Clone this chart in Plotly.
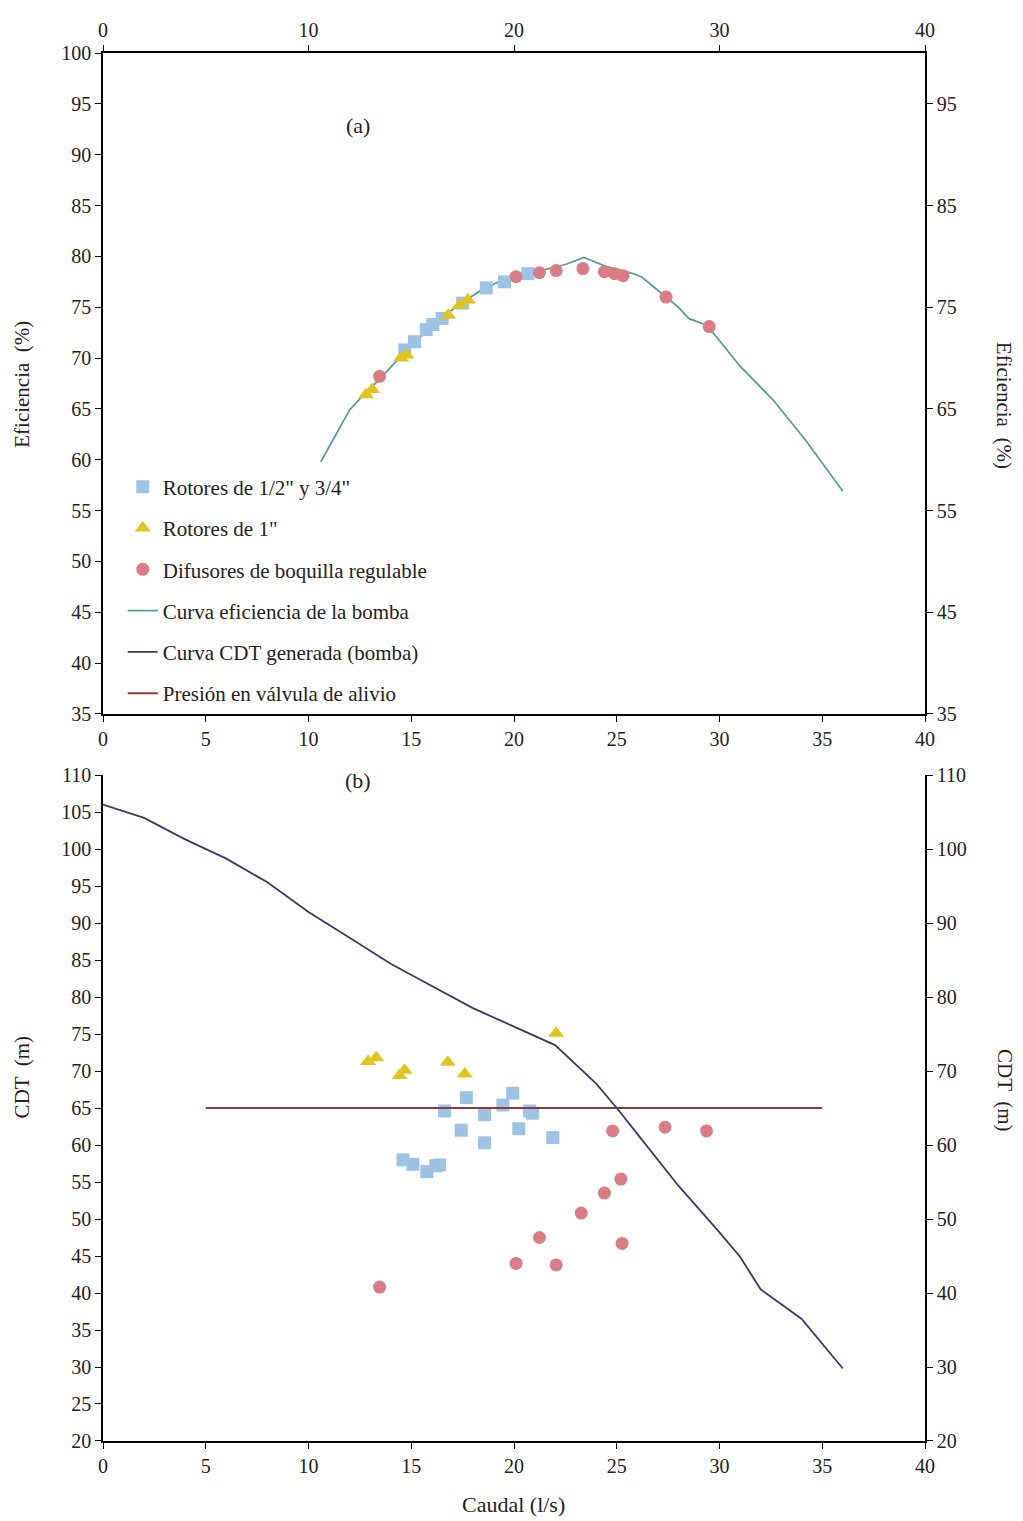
import plotly.graph_objects as go

# ---------------- data: panel (a) efficiency ----------------
eff_curve_x = [10.6, 12.0, 12.6, 13.5, 14.5, 15.5, 16.5, 17.5, 18.5, 19.5, 20.5, 21.5, 22.5, 23.4,
               24.5, 25.8, 26.2, 27.4, 28.0, 28.5, 29.4, 31.0, 32.6, 34.2, 36.0]
eff_curve_y = [59.8, 64.9, 66.2, 68.0, 70.2, 72.2, 74.0, 75.5, 76.8, 77.7, 78.3, 78.7, 79.2, 79.9,
               79.0, 78.3, 78.0, 76.0, 75.0, 73.9, 73.2, 69.2, 65.9, 61.9, 56.9]

eff_blue_x = [14.68, 15.16, 15.73, 16.05, 16.5, 17.5, 18.65, 19.54, 20.67]
eff_blue_y = [70.8, 71.6, 72.8, 73.3, 73.9, 75.4, 76.9, 77.5, 78.3]

eff_yellow_x = [12.8, 13.1, 14.5, 14.76, 16.8, 17.35, 17.76]
eff_yellow_y = [66.4, 66.9, 70.0, 70.3, 74.2, 75.2, 75.7]

eff_pink_x = [13.46, 20.1, 21.24, 22.05, 23.35, 24.4, 24.9, 25.3, 27.4, 29.5]
eff_pink_y = [68.2, 78.0, 78.4, 78.6, 78.8, 78.5, 78.3, 78.1, 76.0, 73.1]

# ---------------- data: panel (b) CDT ----------------
cdt_curve_x = [0, 2, 4, 6, 8, 10, 12, 14, 16, 18, 20, 22, 24, 25, 26, 28, 30, 31, 32, 34, 36]
cdt_curve_y = [106.0, 104.2, 101.3, 98.7, 95.5, 91.5, 88.0, 84.5, 81.5, 78.5, 76.0, 73.5, 68.3,
               65.0, 61.5, 54.5, 48.2, 44.9, 40.5, 36.5, 29.8]

cdt_blue_x = [14.6, 15.08, 15.76, 16.2, 16.38, 16.62, 17.43, 17.68, 18.57, 18.57, 19.46, 19.94,
              20.23, 20.75, 20.9, 21.89]
cdt_blue_y = [58.0, 57.4, 56.4, 57.2, 57.3, 64.6, 62.0, 66.4, 64.1, 60.3, 65.4, 67.0,
              62.2, 64.6, 64.3, 61.0]

cdt_yellow_x = [12.9, 13.3, 14.43, 14.68, 16.78, 17.6, 22.05]
cdt_yellow_y = [71.3, 71.8, 69.4, 70.1, 71.2, 69.6, 75.1]

cdt_pink_x = [13.46, 20.1, 21.24, 22.05, 23.27, 24.4, 24.8, 25.2, 25.26, 27.35, 29.37]
cdt_pink_y = [40.8, 44.0, 47.5, 43.8, 50.8, 53.5, 61.9, 55.4, 46.7, 62.4, 61.9]

relief_x = [5, 35]
relief_y = [65, 65]

# ---------------- labels ----------------
name_blue = 'Rotores de 1/2" y 3/4"'
name_yellow = 'Rotores de 1"'
name_pink = 'Difusores de boquilla regulable'
name_eff = 'Curva eficiencia de la bomba'
name_cdt = 'Curva CDT generada (bomba)'
name_relief = 'Presión en válvula de alivio'

C_BLUE = '#9DC3E6'
C_YELLOW = '#E3C41C'
C_PINK = '#DA7C84'
C_EFF = '#5A9E90'
C_CDT = '#3A3A66'
C_RELIEF = '#8E3B3B'

FONT = 'Liberation Serif, Times New Roman, serif'
TXT = '#222222'
MS = 13

fig = go.Figure()

# panel (a)
fig.add_trace(go.Scatter(x=eff_curve_x, y=eff_curve_y, mode='lines', line=dict(color=C_EFF, width=1.8),
                         showlegend=False, xaxis='x', yaxis='y'))
fig.add_trace(go.Scatter(x=eff_blue_x, y=eff_blue_y, mode='markers', name=name_blue,
                         marker=dict(symbol='square', color=C_BLUE, size=MS), legendgroup='g1',
                         xaxis='x', yaxis='y'))
fig.add_trace(go.Scatter(x=eff_yellow_x, y=eff_yellow_y, mode='markers', name=name_yellow,
                         marker=dict(symbol='triangle-up', color=C_YELLOW, size=MS + 1), legendgroup='g2',
                         xaxis='x', yaxis='y'))
fig.add_trace(go.Scatter(x=eff_pink_x, y=eff_pink_y, mode='markers', name=name_pink,
                         marker=dict(symbol='circle', color=C_PINK, size=MS), legendgroup='g3',
                         xaxis='x', yaxis='y'))

# panel (b)
fig.add_trace(go.Scatter(x=cdt_blue_x, y=cdt_blue_y, mode='markers', showlegend=False,
                         marker=dict(symbol='square', color=C_BLUE, size=MS), xaxis='x2', yaxis='y2'))
fig.add_trace(go.Scatter(x=cdt_yellow_x, y=cdt_yellow_y, mode='markers', showlegend=False,
                         marker=dict(symbol='triangle-up', color=C_YELLOW, size=MS + 1), xaxis='x2', yaxis='y2'))
fig.add_trace(go.Scatter(x=cdt_pink_x, y=cdt_pink_y, mode='markers', showlegend=False,
                         marker=dict(symbol='circle', color=C_PINK, size=MS), xaxis='x2', yaxis='y2'))
fig.add_trace(go.Scatter(x=relief_x, y=relief_y, mode='lines', showlegend=False,
                         line=dict(color=C_RELIEF, width=1.8), xaxis='x2', yaxis='y2'))
fig.add_trace(go.Scatter(x=cdt_curve_x, y=cdt_curve_y, mode='lines', showlegend=False,
                         line=dict(color=C_CDT, width=1.8), xaxis='x2', yaxis='y2'))

# legend-only line entries
fig.add_trace(go.Scatter(x=[None], y=[None], mode='lines', name=name_eff, legendgroup='g4',
                         line=dict(color=C_EFF, width=1.8), xaxis='x', yaxis='y'))
fig.add_trace(go.Scatter(x=[None], y=[None], mode='lines', name=name_cdt, legendgroup='g5',
                         line=dict(color=C_CDT, width=1.8), xaxis='x', yaxis='y'))
fig.add_trace(go.Scatter(x=[None], y=[None], mode='lines', name=name_relief, legendgroup='g6',
                         line=dict(color=C_RELIEF, width=1.8), xaxis='x', yaxis='y'))

# helper traces for secondary axes
fig.add_trace(go.Scatter(x=[None], y=[None], showlegend=False, xaxis='x3', yaxis='y3', hoverinfo='skip'))
fig.add_trace(go.Scatter(x=[None], y=[None], showlegend=False, xaxis='x2', yaxis='y4', hoverinfo='skip'))

axis_common = dict(showline=True, linecolor='black', linewidth=1.5, ticks='outside', ticklen=6,
                   tickwidth=1.2, tickcolor='black', showgrid=False, zeroline=False,
                   tickfont=dict(family=FONT, size=20, color=TXT))

top_dom = [0.5238, 1.0]
bot_dom = [0.0, 0.4798]

fig.update_layout(
    width=1023, height=1521,
    margin=dict(l=95, r=106, t=45, b=88),
    paper_bgcolor='white', plot_bgcolor='white',
    font=dict(family=FONT, size=20, color=TXT),
    xaxis=dict(domain=[0, 1], anchor='y', range=[0, 40], dtick=5, tick0=0, **axis_common),
    yaxis=dict(domain=top_dom, anchor='x', range=[35, 100], dtick=5, tick0=35, **axis_common),
    xaxis3=dict(overlaying='x', side='top', anchor='y', range=[0, 40], dtick=10, tick0=0, **axis_common),
    yaxis3=dict(overlaying='y', side='right', anchor='x', range=[35, 100],
                tickvals=[35, 45, 55, 65, 75, 85, 95], **axis_common),
    xaxis2=dict(domain=[0, 1], anchor='y2', range=[0, 40], dtick=5, tick0=0, **axis_common),
    yaxis2=dict(domain=bot_dom, anchor='x2', range=[20, 110], dtick=5, tick0=20, **axis_common),
    yaxis4=dict(overlaying='y2', side='right', anchor='x2', range=[20, 110], dtick=10, tick0=20,
                **axis_common),
    legend=dict(x=0.024, y=0.702, xanchor='left', yanchor='top', bgcolor='rgba(0,0,0,0)',
                traceorder='grouped', tracegroupgap=11,
                font=dict(family=FONT, size=21, color=TXT)),
    showlegend=True,
)

ann = [
    dict(text='(a)', x=12.4, y=92.9, xref='x', yref='y', showarrow=False,
         xanchor='center', yanchor='middle', font=dict(family=FONT, size=22, color=TXT)),
    dict(text='(b)', x=12.4, y=109.3, xref='x2', yref='y2', showarrow=False,
         xanchor='center', yanchor='middle', font=dict(family=FONT, size=22, color=TXT)),
    dict(text='Eficiencia  (%)', x=-0.0985, y=0.761, xref='paper', yref='paper', showarrow=False,
         xanchor='center', yanchor='middle', textangle=-90, font=dict(family=FONT, size=21, color=TXT)),
    dict(text='Eficiencia  (%)', x=1.097, y=0.746, xref='paper', yref='paper', showarrow=False,
         xanchor='center', yanchor='middle', textangle=90, font=dict(family=FONT, size=21, color=TXT)),
    dict(text='CDT  (m)', x=-0.0985, y=0.262, xref='paper', yref='paper', showarrow=False,
         xanchor='center', yanchor='middle', textangle=-90, font=dict(family=FONT, size=21, color=TXT)),
    dict(text='CDT  (m)', x=1.097, y=0.253, xref='paper', yref='paper', showarrow=False,
         xanchor='center', yanchor='middle', textangle=90, font=dict(family=FONT, size=21, color=TXT)),
    dict(text='Caudal (l/s)', x=0.499, y=-0.046, xref='paper', yref='paper', showarrow=False,
         xanchor='center', yanchor='middle', font=dict(family=FONT, size=22, color=TXT)),
]
fig.update_layout(annotations=ann)

fig.write_html('out.html')
